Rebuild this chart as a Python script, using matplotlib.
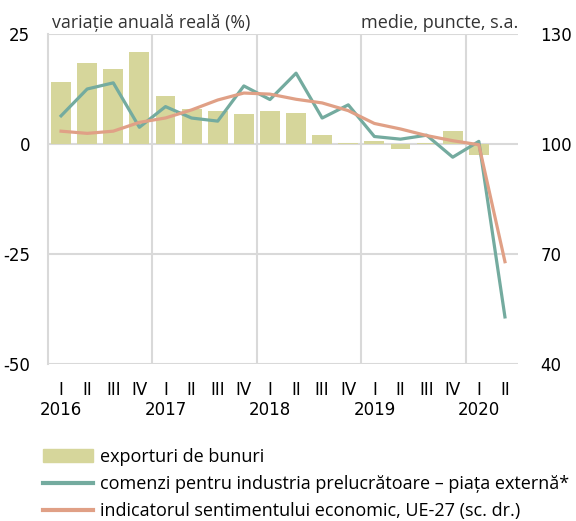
import numpy as np
import matplotlib
matplotlib.use("Agg")
import matplotlib.pyplot as plt
from matplotlib.patches import Patch
from matplotlib.lines import Line2D

quarters = ["I", "II", "III", "IV"] * 4 + ["I", "II"]
years = ["2016", "2017", "2018", "2019", "2020"]

exports = [14.2, 18.4, 17.0, 21.0, 11.0, 7.9, 7.4, 6.9, 7.4, 7.0, 2.0, 0.3,
           0.6, -1.1, 0.2, 3.0, -2.5, np.nan]
orders = [6.4, 12.5, 13.9, 3.8, 8.5, 5.9, 5.2, 13.2, 10.1, 16.1, 5.9, 8.9,
          1.7, 1.1, 2.0, -3.0, 0.6, -39.3]
esi = [103.5, 102.9, 103.5, 105.9, 107.1, 109.3, 112.0, 113.9, 113.6, 112.2,
       111.2, 109.1, 105.6, 104.1, 102.3, 100.9, 99.8, 67.9]

labels = ["exporturi de bunuri",
          "comenzi pentru industria prelucrătoare – piața externă*",
          "indicatorul sentimentului economic, UE-27 (sc. dr.)"]

plt.rcParams['font.family'] = ['Open Sans', 'DejaVu Sans']
tick_font = ['DejaVu Sans']

c_bar = "#d6d69b"
c_green = "#74ab9f"
c_orange = "#e0a086"
c_grid = "#d9d9d9"

fig = plt.figure(figsize=(5.76, 5.21), dpi=100)
ax = fig.add_axes([48/576, 1-364/521, 470/576, 330/521])
x = np.arange(len(quarters))

ax.bar(x, exports, width=0.76, color=c_bar, zorder=2)
ax.plot(x, orders, color=c_green, lw=2.3, zorder=4)
ax.set_xlim(-0.5, 17.5)
ax.set_ylim(-50, 25)
ax.set_yticks([-50, -25, 0, 25])
ax.set_yticklabels(["-50", "-25", "0", "25"], fontfamily=tick_font, fontsize=12)

ax2 = ax.twinx()
ax2.plot(x, esi, color=c_orange, lw=2.3, zorder=3)
ax2.set_ylim(40, 130)
ax2.set_yticks([40, 70, 100, 130])
ax2.set_yticklabels(["40", "70", "100", "130"], fontfamily=tick_font, fontsize=12)
ax2.set_zorder(ax.get_zorder() + 1)
ax2.patch.set_visible(False)

for yv in [-50, -25, 0, 25]:
    ax.axhline(yv, color=c_grid, lw=1.5, zorder=1)
for xv in [3.5, 7.5, 11.5, 15.5]:
    ax.axvline(xv, color=c_grid, lw=1.5, zorder=1)

for a in (ax, ax2):
    for s in a.spines.values():
        s.set_visible(False)
ax.spines['left'].set_visible(True)
ax.spines['left'].set_color(c_grid)
ax.spines['left'].set_linewidth(1.5)

ax.tick_params(axis='y', length=0, pad=13)
ax2.tick_params(axis='y', length=0, pad=16)
ax.set_xticks(x)
ax.set_xticklabels(quarters, fontfamily=tick_font, fontsize=12)
ax.tick_params(axis='x', length=0, pad=12)
ax2.tick_params(axis='x', length=0)

for i, yr in enumerate(years):
    ax.text(i * 4, -0.138, yr, transform=ax.get_xaxis_transform(),
            ha='center', va='center', fontfamily=tick_font, fontsize=12)

ax.text(0.008, 1.005, "variație anuală reală (%)", transform=ax.transAxes,
        ha='left', va='bottom', fontsize=12.8, color='#333333')
ax.text(1.0, 1.005, "medie, puncte, s.a.", transform=ax.transAxes,
        ha='right', va='bottom', fontsize=13, color='#333333')

handles = [Patch(color=c_bar), Line2D([], [], color=c_green, lw=3),
           Line2D([], [], color=c_orange, lw=3)]
fig.legend(handles, labels, loc='upper left', bbox_to_anchor=(43/576, 1-448/521),
           frameon=False, fontsize=13, handlelength=2.75, handletextpad=0.38,
           labelspacing=0.5, borderaxespad=0, borderpad=0)

fig.savefig("out.png", dpi=100)
